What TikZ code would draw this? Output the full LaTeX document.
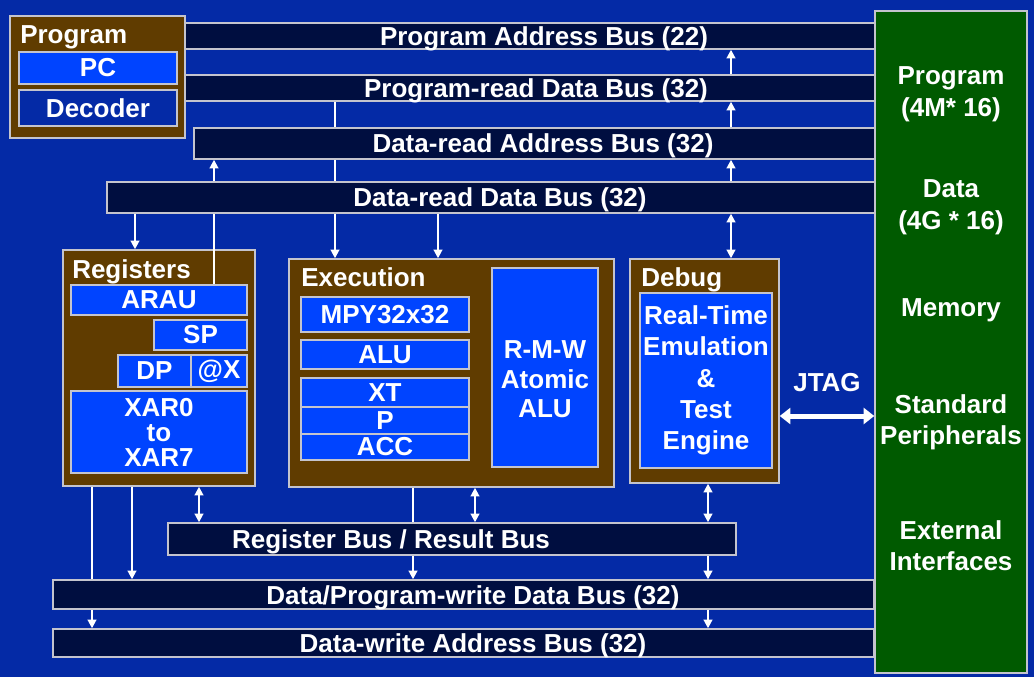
\documentclass[tikz,border=0pt]{standalone}
\usepackage{fontspec}
\setmainfont{Liberation Sans}
\usetikzlibrary{arrows.meta,calc,fit,positioning}
\definecolor{bgblue}{RGB}{4,42,166}
\definecolor{brownbox}{RGB}{96,60,0}
\definecolor{regblue}{RGB}{0,68,255}
\definecolor{busnavy}{RGB}{0,14,64}
\definecolor{memgreen}{RGB}{0,90,0}
\definecolor{edgegray}{RGB}{196,196,206}
\pgfdeclarelayer{back}
\pgfsetlayers{back,main}

\begin{document}
\begin{tikzpicture}[
  x=0.75pt, y=-0.75pt,
  box/.style={draw=edgegray, line width=1.1pt, inner sep=0pt},
  unit/.style={box, fill=brownbox},
  cell/.style={box, fill=regblue},
  bus/.style={box, fill=busnavy},
  txt/.style={text=white, inner sep=0pt, align=center, font=\bfseries\fontsize{19.5}{23.5}\selectfont},
  tight/.style={font=\bfseries\fontsize{19.5}{18.75}\selectfont},
  heading/.style={txt, anchor=base west},
  buslbl/.style={txt, anchor=base},
  wire/.style={draw=white, line width=1.5pt},
  arr/.style={wire, -{Triangle[length=6.5pt,width=6.5pt]}},
  biarr/.style={wire, {Triangle[length=6.5pt,width=6.5pt]}-{Triangle[length=6.5pt,width=6.5pt]}},
  jtag/.style={draw=white, line width=3.75pt, {Triangle[length=8pt,width=12pt]}-{Triangle[length=8pt,width=12pt]}}
]
\begin{pgfonlayer}{back}
  \fill[bgblue] (0,0) rectangle (1034,677);
\end{pgfonlayer}

% program unit
\node[unit, fit={(10,16) (185,138)}] (prog) {};
\node[heading] at (20,44) {Program};
\node[cell, fit={(19,52) (177,84)}, label={[txt]center:PC}] (pc) {};
\node[box, fill=bgblue, fit={(19,90) (177,126)}, label={[txt]center:Decoder}] (dec) {};

% upper buses
\node[bus, fit={(185,23) (876,49)}] (pab) {};
\node[bus, fit={(185,75) (876,101)}] (prd) {};
\node[bus, fit={(194,128) (876,159)}] (dra) {};
\node[bus, fit={(107,182) (876,213)}] (drd) {};
\node[buslbl] at ($(pab.center)+(13.5,9.5)$) {Program Address Bus (22)};
\node[buslbl] at ($(prd.center)+(5.5,9.5)$) {Program-read Data Bus (32)};
\node[buslbl] at ($(dra.center)+(8,9.5)$) {Data-read Address Bus (32)};
\node[buslbl] at ($(drd.center)+(8.5,9.5)$) {Data-read Data Bus (32)};

% registers
\node[unit, fit={(63,250) (255,486)}] (regs) {};
\node[heading] at (72,278) {Registers};
\node[cell, fit={(71,285) (247,315)}, label={[txt]center:ARAU}] (arau) {};
\node[cell, fit={(154,320) (247,350)}, label={[txt]center:SP}] (sp) {};
\node[cell, fit={(118,355) (191,387)}, label={[txt]center:DP}] (dp) {};
\node[cell, fit={(191,355) (247,387)}, label={[txt]center:@X}] (atx) {};
\node[cell, fit={(71,391) (247,473)}, label={[txt, tight]center:XAR0\\to\\XAR7}] (xar) {};

% execution
\node[unit, fit={(289,259) (614,487)}] (exe) {};
\node[heading] at (301,286) {Execution};
\node[cell, fit={(301,297) (469,332)}, label={[txt]center:MPY32x32}] (mpy) {};
\node[cell, fit={(301,340) (469,369)}, label={[txt]center:ALU}] (alu) {};
\node[cell, fit={(301,378) (469,407)}, label={[txt]center:XT}] (xt) {};
\node[cell, fit={(301,407) (469,434)}, label={[txt]center:P}] (p) {};
\node[cell, fit={(301,434) (469,460)}, label={[txt]center:ACC}] (acc) {};
\node[cell, fit={(492,268) (598,467)}] (rmw) {};
\node[txt, font=\bfseries\fontsize{19.5}{22}\selectfont] at ($(rmw.center)+(0,12)$) {R-M-W\\Atomic\\ALU};

% debug
\node[unit, fit={(630,259) (779,483)}] (dbg) {};
\node[heading] at (641,286) {Debug};
\node[cell, fit={(640,293) (772,468)}, label={[txt]center:Real-Time\\Emulation\\\&\\Test\\Engine}] (rte) {};

% lower buses
\node[bus, fit={(168,523) (736,555)}] (rbus) {};
\node[bus, fit={(53,580) (874,609)}] (dpw) {};
\node[bus, fit={(53,629) (874,657)}] (dwa) {};
\node[buslbl] at ($(rbus.center)+(-61,9.5)$) {Register Bus / Result Bus};
\node[buslbl] at ($(dpw.center)+(9.5,9.5)$) {Data/Program-write Data Bus (32)};
\node[buslbl] at ($(dwa.center)+(9.5,9.5)$) {Data-write Address Bus (32)};

% memory and peripherals
\node[box, fill=memgreen, fit={(875,11) (1027,673)}] (mem) {};
\node[txt] at ($(mem.north)+(0,84)$) {Program\\(4M* 16)};
\node[txt] at ($(mem.north)+(0,197)$) {Data\\(4G * 16)};
\node[txt] at ($(mem.north)+(0,300)$) {Memory};
\node[txt] at ($(mem.north)+(0,412)$) {Standard\\Peripherals};
\node[txt] at ($(mem.north)+(0,535.5)$) {External\\Interfaces};

% columns of the connectors
\foreach \x in {92,132,135,199,214,335,413,438,475,708,731}
  \coordinate (c\x) at (\x,0);
\coordinate (cj) at (0,416);

% lines running under the buses
\begin{pgfonlayer}{back}
  \draw[arr] (prd.south -| c335) -- (exe.north -| c335);
  \draw[arr] (regs.south -| c92) -- (dwa.north -| c92);
  \draw[arr] (exe.south -| c413) -- (dpw.north -| c413);
\end{pgfonlayer}

\draw[arr] (prd.north -| c731) -- (pab.south -| c731);
\draw[arr] (dra.north -| c731) -- (prd.south -| c731);
\draw[arr] (drd.north -| c731) -- (dra.south -| c731);
\draw[biarr] (drd.south -| c731) -- (dbg.north -| c731);
\draw[arr] (drd.north -| c214) -- (dra.south -| c214);
\draw[wire] (arau.north -| c214) -- (drd.south -| c214);
\draw[arr] (drd.south -| c135) -- (regs.north -| c135);
\draw[arr] (drd.south -| c438) -- (exe.north -| c438);
\draw[arr] (regs.south -| c132) -- (dpw.north -| c132);
\draw[biarr] (regs.south -| c199) -- (rbus.north -| c199);
\draw[biarr] (exe.south -| c475) -- (rbus.north -| c475);
\draw[biarr] (dbg.south -| c708) -- (rbus.north -| c708);
\draw[arr] (rbus.south -| c708) -- (dpw.north -| c708);
\draw[arr] (dpw.south -| c708) -- (dwa.north -| c708);
\draw[jtag] (dbg.east |- cj) -- node[txt, above=16pt] {JTAG} (mem.west |- cj);
\end{tikzpicture}
\end{document}
